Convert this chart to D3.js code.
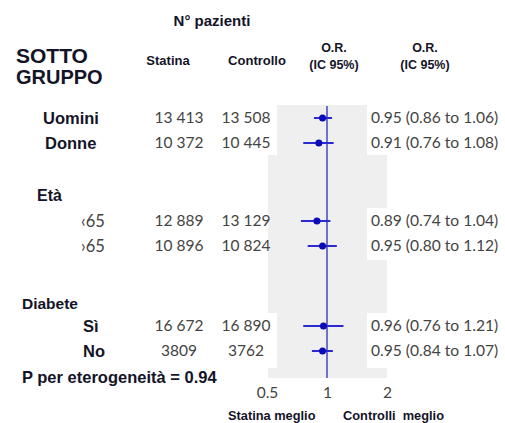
<!DOCTYPE html>
<html><head><meta charset="utf-8">
<script src="https://cdn.jsdelivr.net/npm/d3@7"></script>
<style>body{margin:0;background:#fff}svg{display:block}</style>
</head><body>
<svg id="c" width="505" height="423"></svg>
<script>
// ---- data ----
const rowLabels = ["Uomini","Donne","‹65","›65","Sì","No"];
const groupLabels = ["Età","Diabete"];
const statina = ["13 413","10 372","12 889","10 896","16 672","3809"];
const controllo = ["13 508","10 445","13 129","10 824","16 890","3762"];
const orValues = [0.95,0.91,0.89,0.95,0.96,0.95];
const ciLow = [0.86,0.76,0.74,0.80,0.76,0.84];
const ciHigh = [1.06,1.08,1.04,1.12,1.21,1.07];
const tickValues = [0.5,1,2];
const pHet = "P per eterogeneità = 0.94";

const svg = d3.select("#c");
const sans = "'Liberation Sans', Arial, sans-serif";
const num = "Lato, 'Open Sans', sans-serif";
const ink = "#141428";

// scales
const x = d3.scaleLog().domain([0.5,2]).range([267,387]);
const rowY = [118,143,221,246,326,351];
const y = d3.scaleOrdinal().domain(rowLabels).range(rowY);

// grey panel
svg.append("rect").attr("x",268).attr("y",105).attr("width",119).attr("height",273).attr("fill","#efefef");
// white text boxes over panel
const boxes = [[105,155,277],[208,260,268],[313,368,277]];
boxes.forEach(b=>{
  svg.append("rect").attr("x",140).attr("y",b[0]).attr("width",b[2]-140).attr("height",b[1]-b[0]).attr("fill","#fff");
  svg.append("rect").attr("x",367).attr("y",b[0]).attr("width",138).attr("height",b[1]-b[0]).attr("fill","#fff");
});

// headers
svg.append("text").attr("x",212).attr("y",26).attr("text-anchor","middle").attr("font-family",sans)
  .attr("font-weight","bold").attr("font-size",15).attr("fill",ink).text("N° pazienti");
svg.append("text").attr("x",16).attr("y",63).attr("font-family",sans).attr("font-weight","bold")
  .attr("font-size",21).attr("fill",ink).text("SOTTO");
svg.append("text").attr("x",16).attr("y",84).attr("font-family",sans).attr("font-weight","bold")
  .attr("font-size",20).attr("fill",ink).text("GRUPPO");
svg.append("text").attr("x",168).attr("y",65).attr("text-anchor","middle").attr("font-family",sans)
  .attr("font-weight","bold").attr("font-size",13).attr("fill",ink).text("Statina");
svg.append("text").attr("x",257).attr("y",65).attr("text-anchor","middle").attr("font-family",sans)
  .attr("font-weight","bold").attr("font-size",13).attr("fill",ink).text("Controllo");
[334,425].forEach(cx=>{
  svg.append("text").attr("x",cx).attr("y",52).attr("text-anchor","middle").attr("font-family",sans)
    .attr("font-weight","bold").attr("font-size",12.5).attr("fill",ink).text("O.R.");
  svg.append("text").attr("x",cx).attr("y",69).attr("text-anchor","middle").attr("font-family",sans)
    .attr("font-weight","bold").attr("font-size",12.5).attr("fill",ink).text("(IC 95%)");
});

// group labels
svg.append("text").attr("x",37).attr("y",201).attr("font-family",sans).attr("font-weight","bold")
  .attr("font-size",16).attr("fill",ink).text(groupLabels[0]);
svg.append("text").attr("x",22).attr("y",309).attr("font-family",sans).attr("font-weight","bold")
  .attr("font-size",15.5).attr("fill",ink).text(groupLabels[1]);

// row labels
const labX = [43,45,81,81,83,83];
const labFont = [sans,sans,num,num,sans,sans];
const labW = ["bold","bold","normal","normal","bold","bold"];
rowLabels.forEach((r,i)=>{
  svg.append("text").attr("x",labX[i]).attr("y",y(r)+6).attr("font-family",labFont[i])
    .attr("font-weight",labW[i]).attr("font-size",16.5).attr("fill",i>=2&&i<4?"#444":ink).text(r);
  svg.append("text").attr("x",179).attr("y",y(r)+5).attr("text-anchor","middle").attr("font-family",num)
    .attr("font-size",15.5).attr("fill","#444").text(statina[i]);
  svg.append("text").attr("x",246).attr("y",y(r)+5).attr("text-anchor","middle").attr("font-family",num)
    .attr("font-size",15.5).attr("fill","#444").text(controllo[i]);
  svg.append("text").attr("x",371).attr("y",y(r)+5).attr("font-family",num)
    .attr("font-size",15.6).attr("fill","#444")
    .text(`${orValues[i].toFixed(2)} (${ciLow[i].toFixed(2)} to ${ciHigh[i].toFixed(2)})`);
});

// reference line
svg.append("line").attr("x1",x(1)).attr("x2",x(1)).attr("y1",106).attr("y2",378)
  .attr("stroke","#5050c8").attr("stroke-width",1.6);

// CI + points
svg.selectAll(".ci").data(rowLabels).join("line").attr("class","ci")
  .attr("x1",(d,i)=>x(ciLow[i])).attr("x2",(d,i)=>x(ciHigh[i]))
  .attr("y1",d=>y(d)).attr("y2",d=>y(d)).attr("stroke","#2a2ad0").attr("stroke-width",2);
svg.selectAll(".pt").data(rowLabels).join("circle").attr("class","pt")
  .attr("cx",(d,i)=>x(orValues[i])).attr("cy",d=>y(d)).attr("r",3.5).attr("fill","#0a0ab8");

// axis labels
const ax = svg.append("g").attr("transform","translate(0,380)")
  .call(d3.axisBottom(x).tickValues(tickValues).tickSize(0).tickPadding(4).tickFormat(d3.format("")));
ax.select(".domain").remove();
ax.selectAll("text").attr("font-family",num).attr("font-size",15.5).attr("fill","#444").attr("dy","0.9em");

svg.append("text").attr("x",228).attr("y",420).attr("font-family",sans).attr("font-weight","bold")
  .attr("font-size",12.8).attr("fill",ink).text("Statina meglio");
svg.append("text").attr("x",343).attr("y",420).attr("font-family",sans).attr("font-weight","bold")
  .attr("font-size",12.8).attr("fill",ink).attr("xml:space","preserve").text("Controlli  meglio");

svg.append("text").attr("x",22).attr("y",383).attr("font-family",sans).attr("font-weight","bold")
  .attr("font-size",16.5).attr("fill",ink).text(pHet);
</script>
</body></html>
